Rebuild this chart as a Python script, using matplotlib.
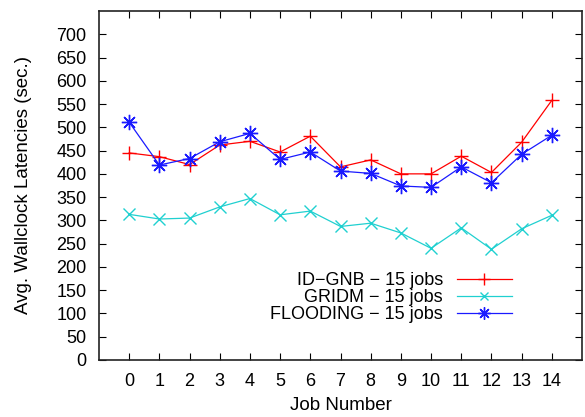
import matplotlib
matplotlib.use("Agg")
import matplotlib.pyplot as plt

plt.rcParams["font.family"] = ["Liberation Sans", "DejaVu Sans"]

# average wallclock latency per job (sec.)
jobs = list(range(15))
id_gnb = [445, 437, 420, 462, 470, 447, 481, 415, 430, 400, 400, 438, 403, 468, 558]
gridm = [313, 303, 305, 329, 347, 312, 320, 287, 294, 273, 240, 284, 238, 282, 311]
flooding = [511, 419, 433, 469, 487, 431, 447, 406, 401, 374, 371, 415, 381, 442, 483]

labels = ["ID\u2212GNB \u2212 15 jobs", "GRIDM \u2212 15 jobs", "FLOODING \u2212 15 jobs"]
y_ticks = list(range(0, 701, 50))

fig = plt.figure(figsize=(5.85, 4.17), dpi=100)
ax = fig.add_axes([99 / 585, (417 - 360) / 417, (582 - 99) / 585, (360 - 11) / 417])

ax.plot(jobs, id_gnb, color="#ff0000", lw=0.9, marker="+", ms=10, mew=1.0, label=labels[0])
ax.plot(jobs, gridm, color="#20d0d0", lw=0.9, marker="x", ms=8, mew=1.0, label=labels[1])
ax.plot(jobs, flooding, color="#1a1aff", lw=0.9, marker=(8, 2, 0), ms=11, mew=1.0, label=labels[2])

ax.set_xlim(-1, 15)
ax.set_ylim(0, 750)
ax.set_xticks(jobs)
ax.set_yticks(y_ticks)
ax.tick_params(direction="in", length=5, width=0.8, top=True, right=True,
               labelsize=13, pad=9)
for s in ax.spines.values():
    s.set_linewidth(1.2)
    s.set_color("#222222")

ax.set_xlabel("Job Number", fontsize=13.5)
ax.set_ylabel("Avg. Wallclock Latencies (sec.)", fontsize=13.5)
ax.xaxis.set_label_coords(0.5, -0.105)
ax.yaxis.set_label_coords(-0.139, 0.5)

leg = ax.legend(loc="lower right", bbox_to_anchor=(0.87, 0.085), frameon=False,
                markerfirst=False, fontsize=13, handlelength=3.05,
                handletextpad=0.78, labelspacing=0.0, markerscale=0.8,
                borderaxespad=0)

fig.savefig("out.png", dpi=100)
